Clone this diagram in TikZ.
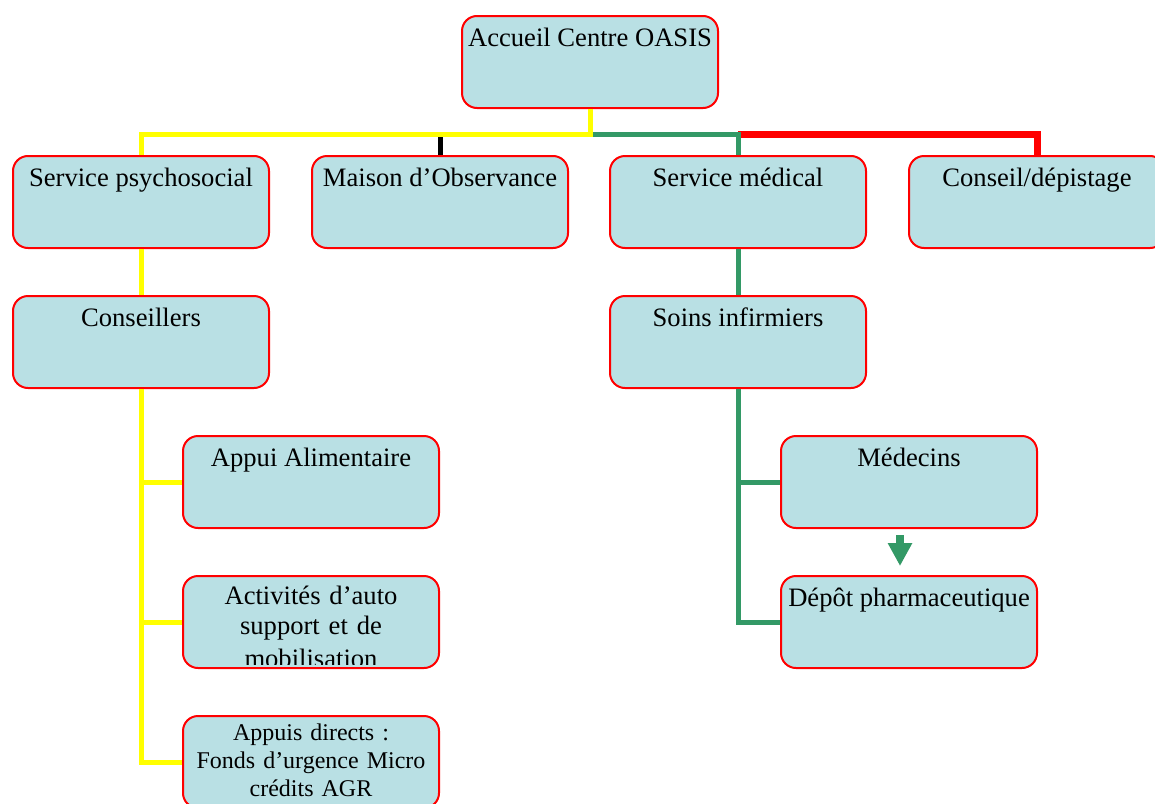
\documentclass[tikz,border=0pt]{standalone}
\usepackage{fontspec}
\setmainfont{Liberation Serif}
\usetikzlibrary{calc,arrows.meta}
\definecolor{boxfill}{RGB}{185,224,228}
\definecolor{lgreen}{RGB}{51,153,102}
\definecolor{lyellow}{RGB}{255,255,0}
\definecolor{lred}{RGB}{255,0,0}
\begin{document}
\begin{tikzpicture}[x=1pt,y=-1pt,
  obox/.style={draw=lred, line width=2pt, fill=boxfill, rounded corners=15pt,
    minimum width=256pt, minimum height=92pt, inner sep=0pt, anchor=north west},
  txt/.style={font=\fontsize{26.6}{30.3}\selectfont, inner sep=0pt, anchor=base},
  smalltxt/.style={font=\fontsize{24}{28}\selectfont, inner sep=0pt, anchor=base},
  yel/.style={draw=lyellow, line width=5pt},
  grn/.style={draw=lgreen, line width=5pt},
  blk/.style={draw=black, line width=5pt},
  rd/.style={draw=lred, line width=7pt}]
\clip (0,0) rectangle (1155,803);
% boxes
\node[obox] (acc) at (461,15) {};
\node[obox] (psy) at (12,155) {};
\node[obox] (mais) at (311,155) {};
\node[obox] (med) at (609,155) {};
\node[obox] (cds) at (908,155) {};
\node[obox] (cons) at (12,295) {};
\node[obox] (soins) at (609,295) {};
\node[obox] (alim) at (182,435) {};
\node[obox] (act) at (182,575) {};
\node[obox] (dir) at (182,715) {};
\node[obox] (mdc) at (780,435) {};
\node[obox] (dep) at (780,575) {};
% connectors
\coordinate (bus) at ($(acc.south)+(0,25)$);
\draw[rd] (med.north |- bus) -| (cds.north);
\draw[grn] (bus) -| (med.north);
\draw[blk] (bus) -| (mais.north);
\draw[yel] (acc.south) -- (bus) -| (psy.north);
\draw[yel] (psy.south) -- (cons.north);
\draw[yel] (cons.south) |- (alim.west);
\draw[yel] (cons.south) |- (act.west);
\draw[yel] (cons.south) |- (dir.west);
\draw[grn] (med.south) -- (soins.north);
\draw[grn] (soins.south) |- (mdc.west);
\draw[grn] (soins.south) |- (dep.west);
\draw[draw=lgreen, line width=7.5pt, -{Triangle[width=23pt,length=23pt]}]
  ($(mdc.south)+(-9,6)$) -- ($(dep.north)+(-9,-9)$);
% texts
\node[txt] (acc-t) at ($(acc.north)+(0,31)$) {Accueil Centre OASIS};
\node[txt] (psy-t) at ($(psy.north)+(0,31)$) {Service psychosocial};
\node[txt] (mais-t) at ($(mais.north)+(0,31)$) {Maison d’Observance};
\node[txt] (med-t) at ($(med.north)+(0,31)$) {Service médical};
\node[txt] (cds-t) at ($(cds.north)+(0,31)$) {Conseil/dépistage};
\node[txt] (cons-t) at ($(cons.north)+(0,31)$) {Conseillers};
\node[txt] (soins-t) at ($(soins.north)+(0,31)$) {Soins infirmiers};
\node[txt] (alim-t) at ($(alim.north)+(0,31)$) {Appui Alimentaire};
\node[txt] (mdc-t) at ($(mdc.north)+(0,31)$) {Médecins};
\node[txt] (dep-t) at ($(dep.north)+(0,31)$) {Dépôt pharmaceutique};
\begin{scope}
\clip (act.north west) rectangle ($(act.south east)+(0,-5)$);
\node[txt, text width=250pt, align=center] (act-t) at ($(act.north)+(0,29)$)
  {Activités d’auto\\ support et de\\[3pt] mobilisation};
\end{scope}
\node[smalltxt, text width=250pt, align=center] (dir-t) at ($(dir.north)+(0,25)$)
  {Appuis directs :\\ Fonds d’urgence Micro\\ crédits AGR};
\end{tikzpicture}
\end{document}
